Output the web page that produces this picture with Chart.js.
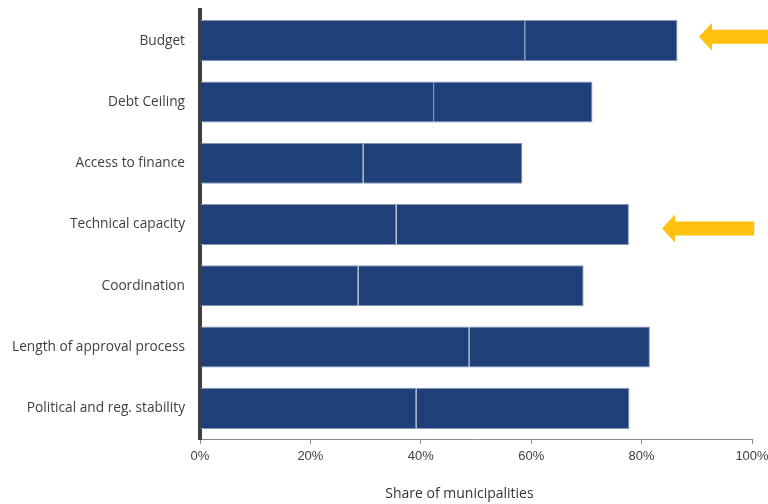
<!DOCTYPE html>
<html>
<head>
<meta charset="utf-8">
<script src="https://cdn.jsdelivr.net/npm/chart.js@4.4.1/dist/chart.umd.min.js"></script>
<style>
  html, body { margin: 0; padding: 0; background: #fff; }
  #wrap { width: 768px; height: 504px; }
</style>
</head>
<body>
<div id="wrap"><canvas id="barrierChart"></canvas></div>
<script>
// ===== data =====
const categories = [
  'Budget',
  'Debt Ceiling',
  'Access to finance',
  'Technical capacity',
  'Coordination',
  'Length of approval process',
  'Political and reg. stability'
];

// two stacked parts of each bar (share of municipalities, %)
const partA = [58.9, 42.4, 29.6, 35.6, 28.7, 48.8, 39.2];
const partB = [27.6, 28.7, 28.8, 42.1, 40.8, 32.7, 38.6];

const xTicks = [0, 20, 40, 60, 80, 100];
const axisTitle = 'Share of municipalities';

// highlight arrows: row, tip and tail (in % on the x scale)
const arrowRows = ['Budget', 'Technical capacity'];
const arrowTip  = [90.4, 83.7];
const arrowTail = [103.0, 100.4];

// ===== helpers =====
const BAR_BLUE = '#1F3F78';
const BAR_EDGE = '#8597BA';

const arrowPlugin = {
  id: 'arrows',
  afterDraw(chart, args, opts) {
    const { ctx, scales: { x, y } } = chart;
    ctx.save();
    ctx.fillStyle = opts.color;
    arrowRows.forEach((row, i) => {
      const cy = y.getPixelForValue(categories.indexOf(row)) + opts.shiftY[i];
      const tip = x.getPixelForValue(arrowTip[i]);
      const tail = x.getPixelForValue(arrowTail[i]);
      const hl = opts.headLength, hh = opts.headHalf, sh = opts.shaftHalf;
      ctx.beginPath();
      ctx.moveTo(tip, cy);
      ctx.lineTo(tip + hl, cy - hh);
      ctx.lineTo(tip + hl, cy - sh);
      ctx.lineTo(tail, cy - sh);
      ctx.lineTo(tail, cy + sh);
      ctx.lineTo(tip + hl, cy + sh);
      ctx.lineTo(tip + hl, cy + hh);
      ctx.closePath();
      ctx.fill();
    });
    ctx.restore();
  }
};

// axis title drawn under the tick labels
const axisTitlePlugin = {
  id: 'axisTitle',
  afterDraw(chart, args, opts) {
    const { ctx, scales: { x } } = chart;
    ctx.save();
    ctx.font = opts.font;
    ctx.fillStyle = opts.color;
    ctx.textAlign = 'center';
    ctx.textBaseline = 'middle';
    ctx.fillText(axisTitle, x.getPixelForValue(opts.at), opts.y);
    ctx.restore();
  }
};

// ===== chart =====
new Chart(document.getElementById('barrierChart'), {
  type: 'bar',
  data: {
    labels: categories,
    datasets: [
      { data: partA, backgroundColor: BAR_BLUE, borderColor: BAR_EDGE, borderWidth: 1 },
      { data: partB, backgroundColor: BAR_BLUE, borderColor: BAR_EDGE, borderWidth: 1 }
    ]
  },
  options: {
    indexAxis: 'y',
    responsive: true,
    maintainAspectRatio: false,
    animation: false,
    datasets: { bar: { categoryPercentage: 1, barPercentage: 0.67 } },
    layout: { padding: { top: 10, right: 16, left: 0, bottom: 0 } },
    plugins: {
      legend: { display: false },
      tooltip: { enabled: false },
      arrows: { color: '#FFC10E', headLength: 13, headHalf: 14, shaftHalf: 7, shiftY: [-4, 4] },
      axisTitle: { font: '14px "Open Sans"', color: '#333333', at: 47, y: 494 }
    },
    scales: {
      x: {
        stacked: true,
        min: 0,
        max: 100,
        afterBuildTicks: s => { s.ticks = xTicks.map(v => ({ value: v })); },
        afterFit: s => {
          s.height = 65;
          s.paddingLeft = 0;
          s.paddingRight = 0;
        },
        grid: { drawOnChartArea: false, drawTicks: true, tickLength: 5, color: '#8C8C8C' },
        border: { display: true, color: '#8C8C8C', width: 1 },
        ticks: {
          padding: 5,
          color: '#404040',
          font: { family: '"Liberation Sans", Arial, sans-serif', size: 13 },
          callback: v => v + '%',
          maxRotation: 0
        }
      },
      y: {
        stacked: true,
        z: 1,
        afterFit: s => {
          s.width = 200;
          s.paddingTop = 0;
          s.paddingBottom = 0;
        },
        grid: { display: false, drawTicks: false },
        border: { display: true, color: '#404040', width: 4 },
        ticks: {
          padding: 15,
          color: '#404040',
          font: { family: '"Open Sans", sans-serif', size: 13.7 }
        }
      }
    }
  },
  plugins: [arrowPlugin, axisTitlePlugin]
});
</script>
</body>
</html>
